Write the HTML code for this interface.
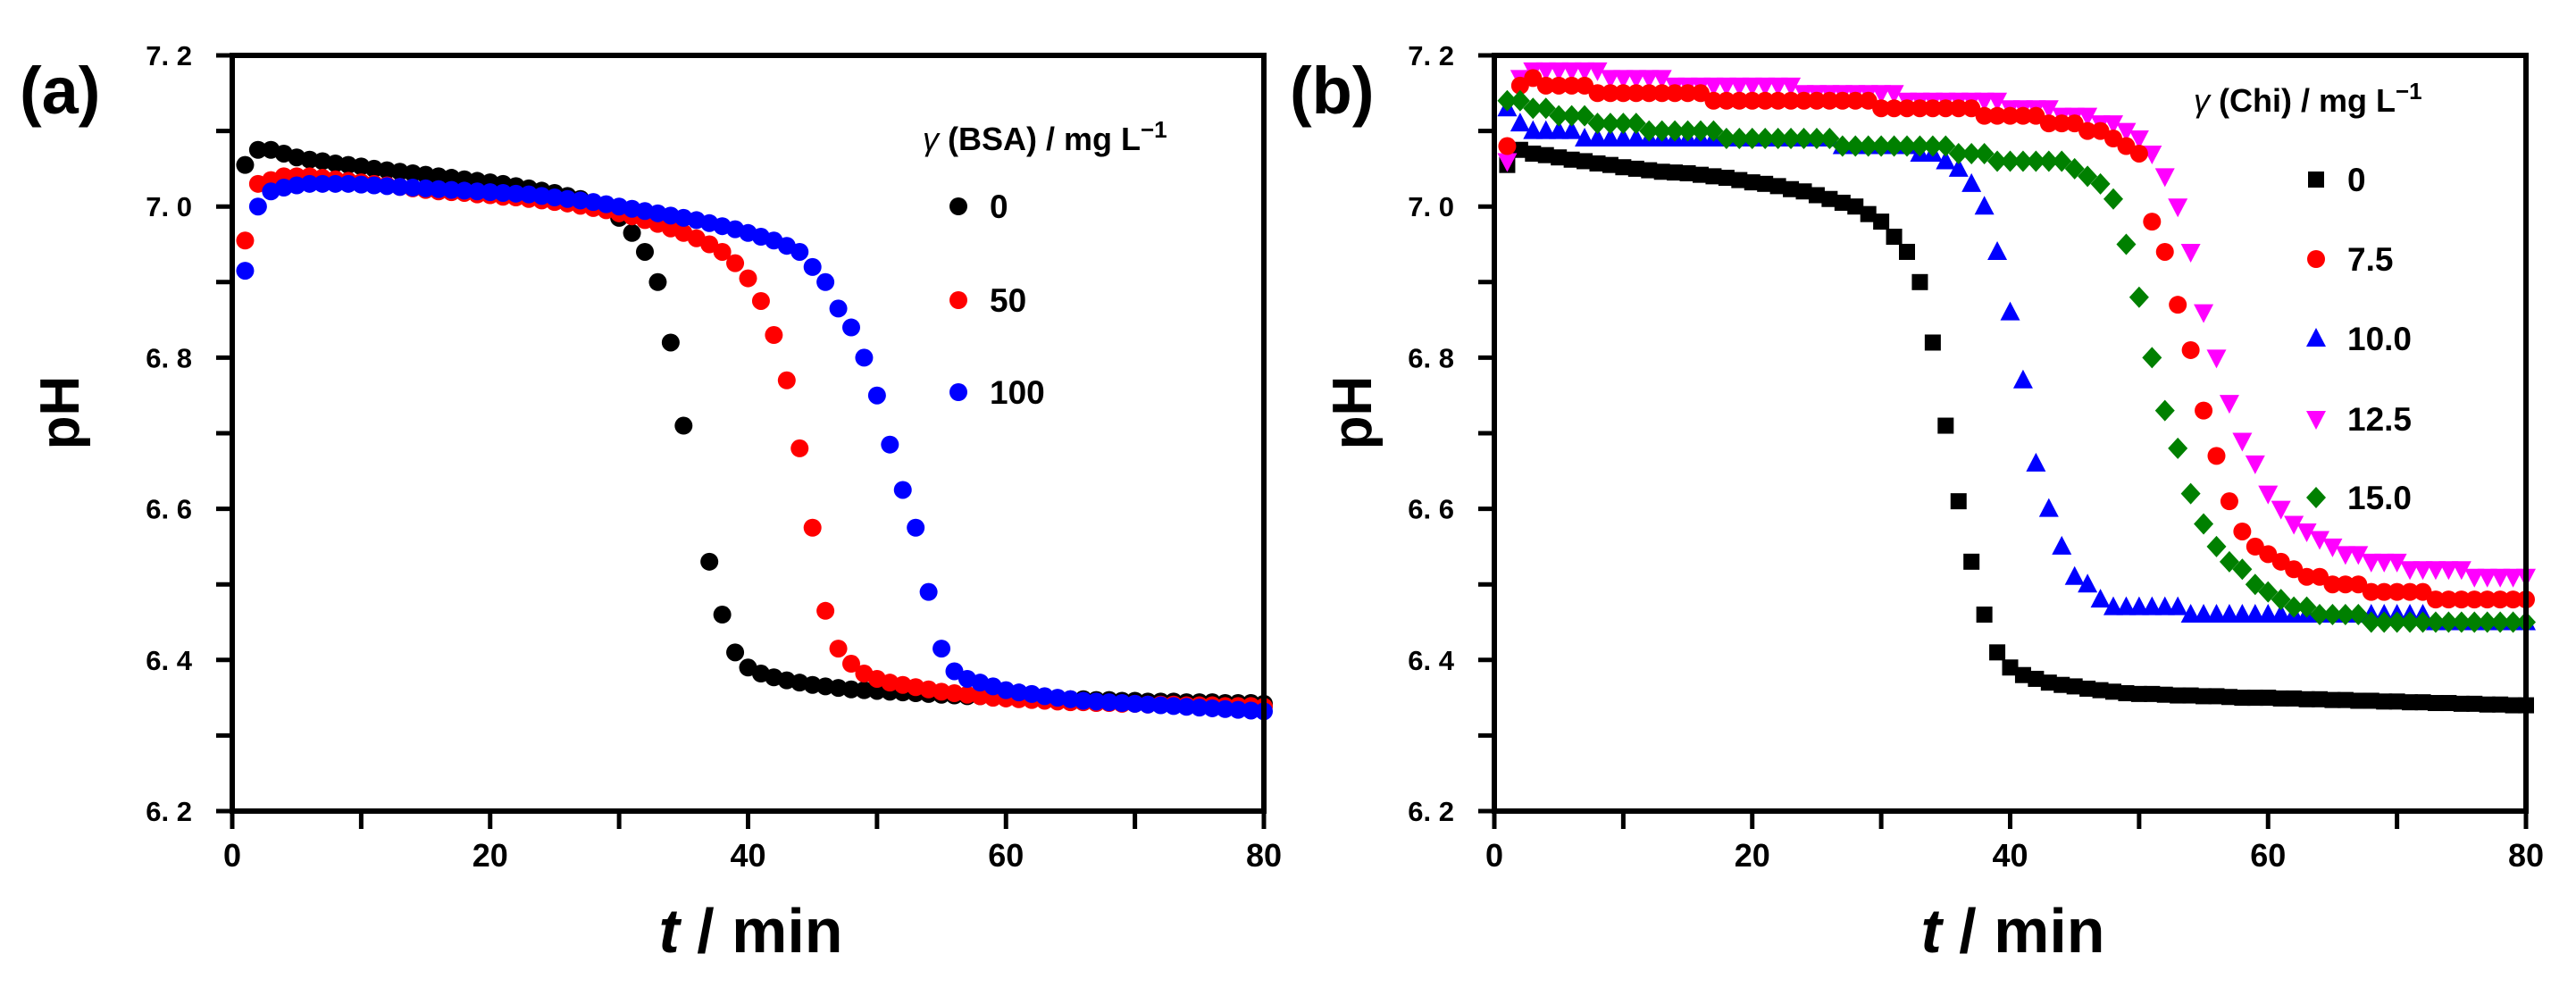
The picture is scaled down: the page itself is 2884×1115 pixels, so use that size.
<!DOCTYPE html>
<html><head><meta charset="utf-8">
<style>
html,body{margin:0;padding:0;background:#fff;}
svg{display:block;font-family:"Liberation Sans",sans-serif;}
</style></head>
<body>
<svg id="chart" width="2884" height="1115" viewBox="0 0 2884 1115" xmlns="http://www.w3.org/2000/svg">
<rect width="2884" height="1115" fill="#fff"/>
<g id="gA"></g>
<g id="gB"></g>
</svg>
<script>
// ---- data ----
const xTicks = [0, 20, 40, 60, 80];
const yTicks = [6.2, 6.4, 6.6, 6.8, 7.0, 7.2];
const yTickLabels = ["6. 2", "6. 4", "6. 6", "6. 8", "7. 0", "7. 2"];
const times = Array.from({length: 80}, (_, i) => i + 1);

const a0 = [7.055,7.075,7.075,7.07,7.065,7.062,7.06,7.057,7.055,7.053,
7.05,7.048,7.046,7.044,7.042,7.04,7.038,7.036,7.034,7.032,
7.03,7.027,7.024,7.021,7.018,7.014,7.01,7.004,6.996,6.985,
6.965,6.94,6.90,6.82,6.71,null,6.53,6.46,6.41,6.39,
6.382,6.377,6.373,6.37,6.367,6.365,6.363,6.361,6.36,6.359,
6.358,6.357,6.356,6.355,6.354,6.353,6.352,6.352,6.351,6.351,
6.35,6.35,6.349,6.349,6.348,6.348,6.347,6.347,6.346,6.346,
6.345,6.345,6.345,6.344,6.344,6.344,6.343,6.343,6.343,6.342];
const a50 = [6.955,7.03,7.035,7.04,7.04,7.04,7.038,7.036,7.034,7.032,
7.03,7.028,7.026,7.024,7.022,7.02,7.019,7.018,7.016,7.015,
7.013,7.012,7.01,7.008,7.006,7.004,7.001,6.998,6.995,6.991,
6.987,6.982,6.977,6.971,6.965,6.958,6.95,6.94,6.925,6.905,
6.875,6.83,6.77,6.68,6.575,6.465,6.415,6.395,6.382,6.375,
6.37,6.367,6.364,6.361,6.358,6.356,6.354,6.352,6.35,6.349,
6.348,6.347,6.346,6.345,6.344,6.344,6.343,6.343,6.342,6.342,
6.341,6.341,6.341,6.34,6.34,6.34,6.339,6.339,6.339,6.338];
const a100 = [6.915,7.0,7.02,7.025,7.028,7.03,7.03,7.03,7.03,7.029,
7.028,7.027,7.026,7.025,7.024,7.023,7.022,7.021,7.02,7.019,
7.018,7.017,7.016,7.014,7.012,7.01,7.008,7.006,7.003,7.0,
6.997,6.994,6.991,6.988,6.985,6.982,6.978,6.974,6.97,6.965,
6.96,6.955,6.948,6.94,6.92,6.90,6.865,6.84,6.80,6.75,
6.685,6.625,6.575,6.49,6.415,6.385,6.375,6.37,6.365,6.36,
6.357,6.355,6.352,6.35,6.348,6.346,6.345,6.344,6.343,6.342,
6.341,6.34,6.339,6.338,6.337,6.336,6.335,6.334,6.333,6.332];

const b0 = [7.055,7.075,7.07,7.068,7.065,7.062,7.06,7.057,7.055,7.052,
7.05,7.048,7.046,7.045,7.044,7.042,7.04,7.038,7.035,7.032,
7.03,7.027,7.023,7.02,7.015,7.01,7.005,7.0,6.99,6.98,
6.96,6.94,6.90,6.82,6.71,6.61,6.53,6.46,6.41,6.39,
6.38,6.375,6.37,6.367,6.365,6.362,6.36,6.358,6.356,6.355,
6.355,6.354,6.353,6.353,6.352,6.352,6.351,6.35,6.35,6.35,
6.349,6.349,6.348,6.348,6.347,6.347,6.346,6.346,6.345,6.345,
6.344,6.344,6.343,6.343,6.342,6.342,6.341,6.341,6.34,6.34];
const b10 = [7.13,7.11,7.10,7.10,7.10,7.10,7.09,7.09,7.09,7.09,
7.09,7.09,7.09,7.09,7.09,7.09,7.09,7.09,7.09,7.09,
7.09,7.09,7.09,7.09,7.09,7.09,7.08,7.08,7.08,7.08,
7.08,7.08,7.07,7.07,7.06,7.05,7.03,7.0,6.94,6.86,
6.77,6.66,6.60,6.55,6.51,6.50,6.48,6.47,6.47,6.47,
6.47,6.47,6.47,6.46,6.46,6.46,6.46,6.46,6.46,6.46,
6.46,6.46,6.46,6.46,6.46,6.46,6.46,6.46,6.46,6.46,
6.46,6.46,6.45,6.45,6.45,6.45,6.45,6.45,6.45,6.45];
const b75 = [7.08,7.16,7.17,7.16,7.16,7.16,7.16,7.15,7.15,7.15,
7.15,7.15,7.15,7.15,7.15,7.15,7.14,7.14,7.14,7.14,
7.14,7.14,7.14,7.14,7.14,7.14,7.14,7.14,7.14,7.13,
7.13,7.13,7.13,7.13,7.13,7.13,7.13,7.12,7.12,7.12,
7.12,7.12,7.11,7.11,7.11,7.10,7.10,7.09,7.08,7.07,
6.98,6.94,6.87,6.81,6.73,6.67,6.61,6.57,6.55,6.54,
6.53,6.52,6.51,6.51,6.50,6.50,6.50,6.49,6.49,6.49,
6.49,6.49,6.48,6.48,6.48,6.48,6.48,6.48,6.48,6.48];
const b125 = [7.06,7.17,7.18,7.18,7.18,7.18,7.18,7.18,7.17,7.17,
7.17,7.17,7.17,7.16,7.16,7.16,7.16,7.16,7.16,7.16,
7.16,7.16,7.16,7.15,7.15,7.15,7.15,7.15,7.15,7.15,
7.15,7.14,7.14,7.14,7.14,7.14,7.14,7.14,7.14,7.13,
7.13,7.13,7.13,7.12,7.12,7.12,7.11,7.11,7.10,7.09,
7.07,7.04,7.00,6.94,6.86,6.80,6.74,6.69,6.66,6.62,
6.60,6.58,6.57,6.56,6.55,6.54,6.54,6.53,6.53,6.53,
6.52,6.52,6.52,6.52,6.52,6.51,6.51,6.51,6.51,6.51];
const b15 = [7.14,7.14,7.13,7.13,7.12,7.12,7.12,7.11,7.11,7.11,
7.11,7.10,7.10,7.10,7.10,7.10,7.10,7.09,7.09,7.09,
7.09,7.09,7.09,7.09,7.09,7.09,7.08,7.08,7.08,7.08,
7.08,7.08,7.08,7.08,7.08,7.07,7.07,7.07,7.06,7.06,
7.06,7.06,7.06,7.06,7.05,7.04,7.03,7.01,6.95,6.88,
6.80,6.73,6.68,6.62,6.58,6.55,6.53,6.52,6.50,6.49,
6.48,6.47,6.47,6.46,6.46,6.46,6.46,6.45,6.45,6.45,
6.45,6.45,6.45,6.45,6.45,6.45,6.45,6.45,6.45,6.45];

const NS = "http://www.w3.org/2000/svg";
function mk(parent, tag, attrs, text) {
  const e = document.createElementNS(NS, tag);
  for (const k in attrs) e.setAttribute(k, attrs[k]);
  if (text !== undefined) e.textContent = text;
  parent.appendChild(e);
  return e;
}

function marker(g, shape, cx, cy, color) {
  let e;
  if (shape === "circle") e = mk(g, "circle", {cx: cx, cy: cy, r: 10, fill: color});
  else if (shape === "square") e = mk(g, "rect", {x: cx - 9, y: cy - 9, width: 18, height: 18, fill: color});
  else if (shape === "tri") e = mk(g, "polygon", {points: `${cx},${cy-12} ${cx+11},${cy+9} ${cx-11},${cy+9}`, fill: color});
  else if (shape === "tridown") e = mk(g, "polygon", {points: `${cx},${cy+12} ${cx+11},${cy-9} ${cx-11},${cy-9}`, fill: color});
  else e = mk(g, "polygon", {points: `${cx},${cy-12} ${cx+11},${cy} ${cx},${cy+12} ${cx-11},${cy}`, fill: color});
  return e;
}

function panel(g, cfg) {
  const L = cfg.left, R = cfg.right, T = 62, B = 908;
  const xs = v => L + (v - 0) / 80 * (R - L);
  const ys = v => B - (v - 6.2) / 1.0 * (B - T);

  cfg.series.forEach(s => {
    const sg = mk(g, "g", {});
    
    
    s.values.forEach((v, i) => {
      if (v === null) return;
      const m = marker(sg, s.shape, xs(times[i]), ys(v), s.color);
      
      
    });
  });

  const fr = mk(g, "rect", {x: L, y: T, width: R - L, height: B - T, fill: "none", stroke: "#000", "stroke-width": 6});
  
  

  for (let k = 0; k <= 10; k++) {
    const v = 6.2 + k * 0.1;
    const t = mk(g, "line", {x1: L - 18, x2: L, y1: ys(v), y2: ys(v), stroke: "#000", "stroke-width": 5});
    
    
  }
  yTicks.forEach((v, i) => {
    const t = mk(g, "text", {x: L - 45, y: ys(v) + 11, "text-anchor": "end", "font-size": 31, "font-weight": "bold"}, yTickLabels[i]);
    
    
  });
  for (let k = 0; k <= 8; k++) {
    const v = k * 10;
    const t = mk(g, "line", {x1: xs(v), x2: xs(v), y1: B, y2: B + 20, stroke: "#000", "stroke-width": 5});
    
    
  }
  xTicks.forEach(v => {
    const t = mk(g, "text", {x: xs(v), y: 970, "text-anchor": "middle", "font-size": 36, "font-weight": "bold"}, String(v));
    
    
  });

  const xt = mk(g, "text", {x: (L + R) / 2 + 3, y: 1066, "text-anchor": "middle", "font-size": 70, "font-weight": "bold"});
  
  
  mk(xt, "tspan", {"font-style": "italic"}, "t");
  mk(xt, "tspan", {}, " / min");
  const yt = mk(g, "text", {x: 0, y: 0, "text-anchor": "middle", "font-size": 62, "font-weight": "bold", transform: `translate(${cfg.yTitleX},462) rotate(-90)`}, "pH");
  
  

  const pl = mk(g, "text", {x: cfg.labelX, y: 127, "font-size": 74, "font-weight": "bold"}, cfg.label);
  
  

  const lg = mk(g, "g", {});
  
  
  const lt = mk(lg, "text", {x: cfg.legTitleX, y: cfg.legTitleY, "font-size": 36, "font-weight": "bold"});
  
  
  mk(lt, "tspan", {"font-style": "italic", "font-weight": "normal"}, "γ");
  mk(lt, "tspan", {}, " (" + cfg.species + ") / mg L");
  mk(lt, "tspan", {dy: -14, "font-size": 26}, "−1");
  cfg.legendOrder.forEach((si, i) => {
    const s = cfg.series[si];
    const cy = cfg.legY[i];
    const eg = mk(lg, "g", {});
    
    
    marker(eg, s.shape, cfg.legMX, cy, s.color);
    mk(eg, "text", {x: cfg.legMX + 35, y: cy + 13, "font-size": 37, "font-weight": "bold"}, s.name);
  });
}

panel(document.getElementById("gA"), {
  left: 260, right: 1415, label: "(a)", labelX: 22, yTitleX: 88,
  species: "BSA", legTitleX: 1033, legTitleY: 168, legMX: 1073, legY: [231, 336, 439],
  series: [
    {name: "0", values: a0, color: "#000000", shape: "circle"},
    {name: "50", values: a50, color: "#ff0000", shape: "circle"},
    {name: "100", values: a100, color: "#0000ff", shape: "circle"}
  ],
  legendOrder: [0, 1, 2]
});
panel(document.getElementById("gB"), {
  left: 1673, right: 2828, label: "(b)", labelX: 1444, yTitleX: 1535,
  species: "Chi", legTitleX: 2456, legTitleY: 125, legMX: 2593, legY: [201, 290, 379, 469, 557],
  series: [
    {name: "0", values: b0, color: "#000000", shape: "square"},
    {name: "10.0", values: b10, color: "#0000ff", shape: "tri"},
    {name: "12.5", values: b125, color: "#ff00ff", shape: "tridown"},
    {name: "7.5", values: b75, color: "#ff0000", shape: "circle"},
    {name: "15.0", values: b15, color: "#008000", shape: "diamond"}
  ],
  legendOrder: [0, 3, 1, 2, 4]
});
</script>
</body></html>
